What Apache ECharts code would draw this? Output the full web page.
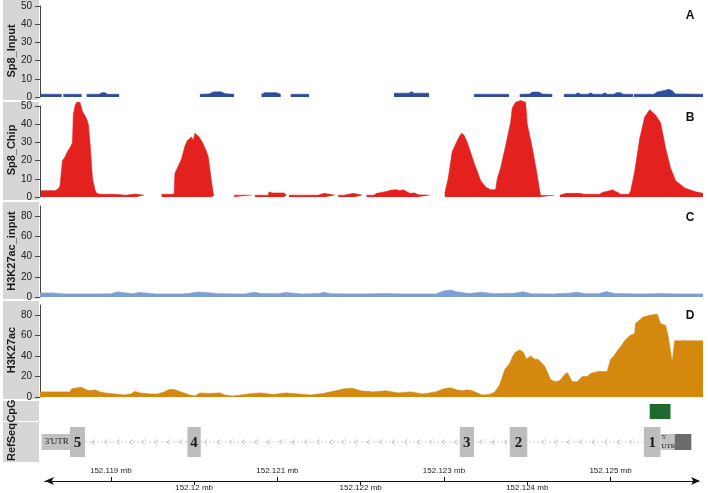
<!DOCTYPE html>
<html>
<head>
<meta charset="utf-8">
<script src="https://cdn.jsdelivr.net/npm/echarts@6/dist/echarts.min.js"></script>
<style>
  html, body { margin: 0; padding: 0; background: #fff; }
  #chart { width: 708px; height: 493px; }
</style>
</head>
<body>
<div id="chart"></div>
<script>
// all positions are kb from 152.118 mb
const X_MIN = 0.15, X_MAX = 8.11;
const BASE_MB = 152.118;

// coverage tracks, one list of [kb, value] segments per track
const sp8Input = [
  [[0.16, 1.5], [0.41, 1.5]],
  [[0.43, 1.5], [0.65, 1.5]],
  [[0.71, 1.5], [0.86, 1.5], [0.89, 2.4], [0.93, 2.4], [0.96, 1.5], [1.10, 1.5]],
  [[2.07, 1.5], [2.18, 1.7], [2.23, 2.8], [2.32, 2.9], [2.38, 1.8], [2.48, 1.5]],
  [[2.81, 1.5], [2.85, 2.4], [2.99, 2.4], [3.04, 1.5]],
  [[3.16, 1.5], [3.38, 1.5]],
  [[4.40, 2.1], [4.58, 2.1], [4.61, 3], [4.64, 2.1], [4.82, 2.1]],
  [[5.36, 1.5], [5.78, 1.5]],
  [[5.91, 1.5], [6.03, 1.6], [6.06, 2.7], [6.14, 2.7], [6.18, 1.6], [6.30, 1.5]],
  [[6.44, 1.5], [6.58, 1.5], [6.61, 2.3], [6.64, 1.5], [6.73, 1.5], [6.76, 2.3], [6.79, 1.5],
   [6.90, 1.5], [6.93, 2.3], [6.96, 1.5], [7.04, 1.5], [7.07, 2.4], [7.12, 2.4], [7.15, 1.5], [7.27, 1.5]],
  [[7.28, 1.5], [7.52, 1.5], [7.56, 2.8], [7.65, 3.6], [7.70, 4.2], [7.74, 3.5], [7.78, 1.7], [8.11, 1.5]]
];

const sp8Chip = [
  [[0.16, 3.5], [0.33, 3.5], [0.34, 4.5], [0.37, 4.5], [0.39, 6], [0.41, 7], [0.42, 20], [0.45, 22],
   [0.48, 25], [0.51, 27], [0.54, 30], [0.55, 45], [0.57, 50], [0.59, 52], [0.63, 52], [0.66, 47],
   [0.71, 43], [0.73, 40], [0.75, 30], [0.78, 10], [0.81, 4], [0.83, 2], [0.87, 1.5], [1.05, 1.5],
   [1.07, 1], [1.18, 1], [1.19, 1.6], [1.29, 1.6], [1.31, 1], [1.40, 1]],
  [[1.61, 1.5], [1.76, 1.5], [1.77, 13], [1.81, 17], [1.85, 21], [1.89, 28], [1.92, 31], [1.97, 33],
   [1.99, 31], [2.01, 35], [2.03, 36], [2.06, 33], [2.10, 30], [2.14, 26], [2.17, 22], [2.19, 15],
   [2.21, 8], [2.23, 2], [2.24, 0.8]],
  [[2.48, 1], [2.69, 1]],
  [[2.73, 1], [2.89, 1], [2.90, 2.8], [2.94, 2.2], [3.08, 2.2], [3.11, 1]],
  [[3.14, 1], [3.49, 1], [3.51, 2], [3.56, 2], [3.58, 1], [3.69, 1]],
  [[3.73, 1], [3.80, 1], [3.82, 2], [3.91, 2], [3.93, 1], [4.02, 1]],
  [[4.07, 1], [4.16, 1], [4.19, 2], [4.25, 2.5], [4.31, 3], [4.37, 3.8], [4.43, 4], [4.47, 3.5],
   [4.51, 4], [4.55, 3], [4.59, 2], [4.65, 2.2], [4.69, 1.2], [4.83, 1]],
  [[5.01, 2], [5.05, 10], [5.10, 25], [5.13, 28], [5.17, 32], [5.21, 35], [5.24, 34], [5.26, 32],
   [5.28, 30], [5.36, 19], [5.44, 9], [5.50, 5.5], [5.56, 4], [5.62, 4], [5.64, 10], [5.68, 16],
   [5.74, 28], [5.80, 41], [5.82, 49], [5.86, 52], [5.92, 53], [5.98, 52], [6.00, 40], [6.06, 27],
   [6.12, 12], [6.15, 3], [6.16, 0.8], [6.32, 0.8]],
  [[6.39, 1], [6.47, 2], [6.63, 2], [6.68, 1.5], [6.87, 1.5], [6.90, 2.5], [6.99, 3.5], [7.02, 4],
   [7.06, 3], [7.09, 2.5], [7.12, 1.5], [7.22, 1.5], [7.24, 3], [7.29, 14], [7.35, 32], [7.41, 44],
   [7.47, 48], [7.54, 45], [7.60, 41], [7.66, 27], [7.72, 16], [7.78, 9], [7.89, 5], [8.01, 3], [8.11, 2]]
];

const h3Input = [[
  [0.15, 4], [0.30, 4], [0.45, 3], [0.80, 3], [1.00, 3.2], [1.08, 5], [1.15, 4.5], [1.25, 3.3],
  [1.35, 4.5], [1.42, 4], [1.55, 3], [1.85, 3], [1.95, 3.6], [2.05, 5], [2.15, 4.4], [2.30, 3.3],
  [2.60, 3], [2.72, 4.8], [2.80, 3.4], [3.00, 3.3], [3.10, 4.4], [3.30, 3], [3.50, 3.4], [3.55, 4.6],
  [3.65, 3.3], [4.00, 3], [4.30, 3.4], [4.50, 3], [4.90, 3], [5.00, 6], [5.08, 7], [5.15, 5.2],
  [5.30, 3.4], [5.45, 4.8], [5.60, 3.3], [5.85, 3.8], [5.95, 5.2], [6.05, 3.3], [6.30, 3],
  [6.50, 3.8], [6.60, 4.8], [6.70, 3.3], [6.85, 3.3], [6.95, 5.4], [7.05, 3.4], [7.40, 3],
  [7.60, 3.5], [7.80, 3], [8.11, 3]
]];

const h3k27ac = [[
  [0.15, 5], [0.51, 5], [0.53, 8], [0.60, 9], [0.65, 9.5], [0.69, 7.5], [0.75, 6], [0.81, 7],
  [0.87, 5], [0.93, 4], [1.05, 3], [1.17, 2], [1.24, 3], [1.29, 5.5], [1.35, 4], [1.47, 3],
  [1.56, 3], [1.64, 5], [1.71, 7.5], [1.77, 7], [1.86, 4.5], [1.95, 2], [2.01, 1], [2.07, 4],
  [2.19, 3.5], [2.31, 4], [2.37, 2], [2.46, 1], [2.52, 1.5], [2.65, 3], [2.80, 4], [2.95, 2.5],
  [3.10, 4], [3.25, 3], [3.40, 2], [3.55, 3.5], [3.70, 6], [3.80, 8], [3.90, 8.5], [4.00, 6],
  [4.15, 5], [4.30, 6], [4.45, 4], [4.60, 5], [4.75, 3], [4.90, 5], [5.00, 8], [5.08, 9],
  [5.15, 7], [5.22, 6], [5.28, 7], [5.34, 6], [5.40, 4], [5.46, 2], [5.55, 2.5], [5.61, 5],
  [5.67, 12], [5.73, 27], [5.79, 33], [5.82, 39], [5.86, 44], [5.91, 46], [5.95, 44], [5.99, 37],
  [6.04, 40], [6.09, 37], [6.13, 37], [6.21, 30], [6.28, 17], [6.33, 15], [6.39, 16], [6.45, 22],
  [6.48, 24], [6.54, 15], [6.60, 15], [6.66, 20], [6.72, 20], [6.76, 23], [6.85, 25], [6.96, 25],
  [7.00, 37], [7.04, 40], [7.08, 45], [7.11, 48], [7.17, 55], [7.23, 60], [7.29, 62], [7.30, 72],
  [7.36, 76], [7.38, 78], [7.47, 80], [7.56, 81], [7.60, 72], [7.66, 70], [7.69, 60], [7.74, 34],
  [7.76, 34], [7.77, 55], [8.11, 55]
]];

// gene model (RefSeq) and CpG island, kb
const exonStart = [0.51, 1.92, 5.19, 5.79, 7.40];
const exonEnd = [0.69, 2.08, 5.36, 6.00, 7.60];
const exonLabel = ['5', '4', '3', '2', '1'];
const utrStart = [0.17, 7.60];
const utrEnd = [0.51, 7.77];
const utrLabel = ["3'UTR", "5'\nUTR"];
const darkBlock = [[7.77, 7.97]];
const intron = [[0.69, 7.40]];
const cpgIsland = [[7.47, 7.72]];

// genomic axis ticks (kb from 152.118 mb)
const ticksAbove = [1, 3, 5, 7];
const ticksBelow = [2, 4, 6];

const chart = echarts.init(document.getElementById('chart'));

function withGaps(segments) {
  const out = [];
  segments.forEach(seg => {
    seg.forEach(p => out.push(p));
    out.push([seg[seg.length - 1][0] + 0.001, '-']);
  });
  return out;
}

const font = 'Liberation Sans, Arial, sans-serif';
const serif = 'Liberation Serif, DejaVu Serif, serif';

function trackX(gridIndex) {
  return { gridIndex, type: 'value', min: X_MIN, max: X_MAX, show: false };
}

function trackY(gridIndex, max, ticks) {
  return {
    gridIndex, type: 'value', min: 0, max: max,
    axisLine: { show: true, lineStyle: { color: '#444', width: 1 } },
    axisTick: { show: true, length: 5, lineStyle: { color: '#444' }, customValues: ticks },
    axisLabel: { color: '#222', fontSize: 10, fontFamily: font, margin: 8, customValues: ticks },
    splitLine: { show: false }
  };
}

function coverage(gridIndex, segments, color) {
  return {
    type: 'line', xAxisIndex: gridIndex, yAxisIndex: gridIndex,
    data: withGaps(segments), symbol: 'none', clip: false,
    lineStyle: { color: color, width: 0.6 },
    areaStyle: { color: color, opacity: 1 },
    connectNulls: false, silent: true
  };
}

function boxRender(height, fill, labels, labelStyle) {
  return function (params, api) {
    const a = api.coord([api.value(0), 0.5]);
    const b = api.coord([api.value(1), 0.5]);
    const children = [{
      type: 'rect',
      shape: { x: a[0], y: a[1] - height / 2, width: b[0] - a[0], height: height },
      style: { fill: fill }
    }];
    if (labels) {
      const s = labelStyle(a, b, labels[params.dataIndex]);
      children.push({ type: 'text', style: s });
    }
    return { type: 'group', children: children };
  };
}

const tickLabel = v => parseFloat((BASE_MB + v / 1000).toFixed(3)) + ' mb';

const option = {
  animation: false,
  grid: [
    { left: 40, right: 5, top: 6, height: 91 },
    { left: 40, right: 5, top: 106, height: 91 },
    { left: 40, right: 5, top: 206, height: 91 },
    { left: 40, right: 5, top: 305, height: 92 },
    { left: 40, right: 5, top: 402, height: 19 },
    { left: 40, right: 5, top: 422, height: 40 },
    { left: 45, right: 10, top: 478, height: 3 }
  ],
  xAxis: [
    trackX(0), trackX(1), trackX(2), trackX(3), trackX(4), trackX(5),
    {
      gridIndex: 6, type: 'value', position: 'top', min: 0.21, max: 8.05,
      axisLine: { show: true, lineStyle: { color: '#111', width: 1.2 }, symbol: ['none', 'arrow'], symbolSize: [6, 9], symbolOffset: [0, 2] },
      axisTick: { show: true, length: 4, lineStyle: { color: '#111' }, customValues: ticksAbove },
      axisLabel: { fontSize: 8, color: '#222', fontFamily: font, margin: 3, customValues: ticksAbove, formatter: tickLabel },
      splitLine: { show: false }
    },
    {
      gridIndex: 6, type: 'value', position: 'bottom', min: 0.21, max: 8.05,
      axisLine: { show: true, lineStyle: { color: '#111', width: 1.2 }, symbol: ['arrow', 'none'], symbolSize: [6, 9] },
      axisTick: { show: true, length: 4, lineStyle: { color: '#111' }, customValues: ticksBelow },
      axisLabel: { fontSize: 8, color: '#222', fontFamily: font, margin: 3, customValues: ticksBelow, formatter: tickLabel },
      splitLine: { show: false }
    }
  ],
  yAxis: [
    trackY(0, 50, [0, 10, 20, 30, 40, 50]),
    trackY(1, 50, [0, 10, 20, 30, 40, 50]),
    trackY(2, 90, [0, 20, 40, 60, 80]),
    trackY(3, 90, [0, 20, 40, 60, 80]),
    { gridIndex: 4, type: 'value', min: 0, max: 1, show: false },
    { gridIndex: 5, type: 'value', min: 0, max: 1, show: false },
    { gridIndex: 6, type: 'value', min: 0, max: 1, show: false }
  ],
  graphic: [
    { type: 'rect', z: -1, shape: { x: 3, y: 0, width: 36, height: 100 }, style: { fill: '#d6d6d6' } },
    { type: 'rect', z: -1, shape: { x: 3, y: 102, width: 36, height: 98 }, style: { fill: '#d6d6d6' } },
    { type: 'rect', z: -1, shape: { x: 3, y: 202, width: 36, height: 97 }, style: { fill: '#d6d6d6' } },
    { type: 'rect', z: -1, shape: { x: 3, y: 301, width: 36, height: 98 }, style: { fill: '#d6d6d6' } },
    { type: 'rect', z: -1, shape: { x: 3, y: 401, width: 36, height: 20 }, style: { fill: '#d6d6d6' } },
    { type: 'rect', z: -1, shape: { x: 3, y: 422, width: 36, height: 40 }, style: { fill: '#d6d6d6' } },
    ...[['Sp8_Input', 51], ['Sp8_Chip', 150], ['H3K27ac_input', 251], ['H3K27ac', 350], ['CpG', 411], ['RefSeq', 442]]
      .map(([t, y]) => ({
        type: 'text', x: 12, y: y, rotation: Math.PI / 2,
        style: { text: t, font: 'bold 11px ' + font, fill: '#1a1a1a', textAlign: 'center', textVerticalAlign: 'middle' }
      })),
    ...[['A', 16], ['B', 118], ['C', 218], ['D', 316]].map(([t, y]) => ({
      type: 'text', x: 690, y: y,
      style: { text: t, font: 'bold 12px ' + font, fill: '#111', textAlign: 'center', textVerticalAlign: 'middle' }
    }))
  ],
  series: [
    coverage(0, sp8Input, '#2f4c9c'),
    coverage(1, sp8Chip, '#e3211f'),
    coverage(2, h3Input, '#7d9fd4'),
    coverage(3, h3k27ac, '#d4880e'),
    {
      type: 'custom', xAxisIndex: 4, yAxisIndex: 4, data: cpgIsland, silent: true,
      encode: { x: [0, 1] },
      renderItem: boxRender(15, '#1d6a2f')
    },
    {
      type: 'custom', xAxisIndex: 5, yAxisIndex: 5, data: intron, silent: true,
      encode: { x: [0, 1] },
      renderItem: function (params, api) {
        const a = api.coord([api.value(0), 0.5]);
        const b = api.coord([api.value(1), 0.5]);
        const kids = [{
          type: 'line', shape: { x1: a[0], y1: a[1], x2: b[0], y2: b[1] },
          style: { stroke: '#cfcfcf', lineWidth: 1, lineDash: [2, 2] }
        }];
        const boxes = exonStart.map((s, i) => [api.coord([s, 0.5])[0] - 4, api.coord([exonEnd[i], 0.5])[0] + 4]);
        for (let x = a[0] + 8; x < b[0] - 4; x += 12.5) {
          if (boxes.some(r => x > r[0] && x < r[1])) continue;
          kids.push({
            type: 'polyline',
            shape: { points: [[x + 2, a[1] - 2.5], [x - 1, a[1]], [x + 2, a[1] + 2.5]] },
            style: { stroke: '#bdbdbd', fill: null, lineWidth: 1 }
          });
        }
        return { type: 'group', children: kids };
      }
    },
    {
      type: 'custom', xAxisIndex: 5, yAxisIndex: 5, silent: true,
      data: utrStart.map((s, i) => [s, utrEnd[i]]),
      encode: { x: [0, 1] },
      renderItem: boxRender(16, '#c2c2c2', utrLabel, (a, b, t) => ({
        text: t, x: t.length > 5 ? a[0] + 1 : a[0] + 3, y: a[1],
        font: (t.length > 5 ? '7px ' : '9px ') + serif, fill: '#222',
        textAlign: 'left', textVerticalAlign: 'middle', lineHeight: 9
      }))
    },
    {
      type: 'custom', xAxisIndex: 5, yAxisIndex: 5, data: darkBlock, silent: true,
      encode: { x: [0, 1] },
      renderItem: boxRender(16, '#6b6b6b')
    },
    {
      type: 'custom', xAxisIndex: 5, yAxisIndex: 5, silent: true,
      data: exonStart.map((s, i) => [s, exonEnd[i]]),
      encode: { x: [0, 1] },
      renderItem: boxRender(30, '#bdbdbd', exonLabel, (a, b, t) => ({
        text: t, x: (a[0] + b[0]) / 2, y: a[1] + 1,
        font: 'bold 15px ' + serif, fill: '#1a1a1a',
        textAlign: 'center', textVerticalAlign: 'middle'
      }))
    }
  ]
};

chart.setOption(option);
</script>
</body>
</html>
